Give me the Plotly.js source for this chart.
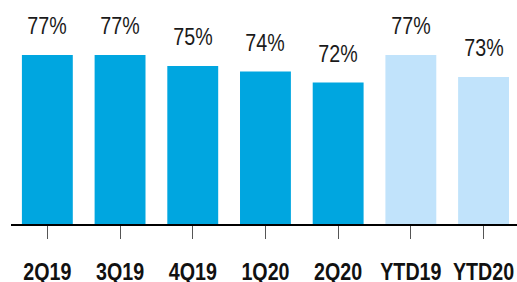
<!DOCTYPE html>
<html>
<head>
<meta charset="utf-8">
<script src="https://cdn.plot.ly/plotly-3.0.1.min.js"></script>
<style>html,body{margin:0;padding:0;background:#fff;}#chart{width:517px;height:282px;}</style>
</head>
<body>
<div id="chart"></div>
<script>
const categories = ["2Q19", "3Q19", "4Q19", "1Q20", "2Q20", "YTD19", "YTD20"];
const values = [77, 77, 75, 74, 72, 77, 73];
const labels = ["77%", "77%", "75%", "74%", "72%", "77%", "73%"];
const colors = ["#00A6E0", "#00A6E0", "#00A6E0", "#00A6E0", "#00A6E0", "#C1E3FB", "#C1E3FB"];

const FONT = "'Liberation Sans Narrow', 'Arial Narrow', 'Liberation Sans', Arial, sans-serif";
const NARROW = 0.82;

const trace = {
  type: "bar",
  x: categories,
  y: values,
  marker: {color: colors},
  hoverinfo: "none"
};

const annotations = categories.map((c, i) => ({
  x: c, y: values[i], text: labels[i], showarrow: false,
  xanchor: "center", yanchor: "bottom", yshift: 14,
  font: {family: FONT, size: 24, color: "#1a1a1a"}
}));

const layout = {
  width: 517, height: 282,
  margin: {l: 11, r: 0, t: 0, b: 58},
  paper_bgcolor: "#fff", plot_bgcolor: "#fff",
  bargap: 0.30,
  showlegend: false,
  xaxis: {
    type: "category", range: [-0.5, 6.46],
    showline: true, linecolor: "#000", linewidth: 2,
    ticks: "outside", ticklen: 13, tickwidth: 1, tickcolor: "#555",
    tickangle: 0,
    tickfont: {family: FONT, size: 24, color: "#111", weight: "bold"},
    ticklabelstandoff: 12,
    showgrid: false, zeroline: false, fixedrange: true
  },
  yaxis: {
    range: [46.3, 87], visible: false, showgrid: false, zeroline: false, fixedrange: true
  },
  annotations: annotations
};

function condense(gd) {
  const texts = gd.querySelectorAll(".xtick text, .annotation-text");
  texts.forEach(t => {
    const b = t.getBBox();
    const cx = b.x + b.width / 2;
    const prev = t.getAttribute("transform") || "";
    t.setAttribute("transform", (prev + " translate(" + cx + ",0) scale(" + NARROW + ",1) translate(" + (-cx) + ",0)").trim());
  });
}

Plotly.newPlot("chart", [trace], layout, {displayModeBar: false, staticPlot: true}).then(gd => condense(gd));
</script>
</body>
</html>
